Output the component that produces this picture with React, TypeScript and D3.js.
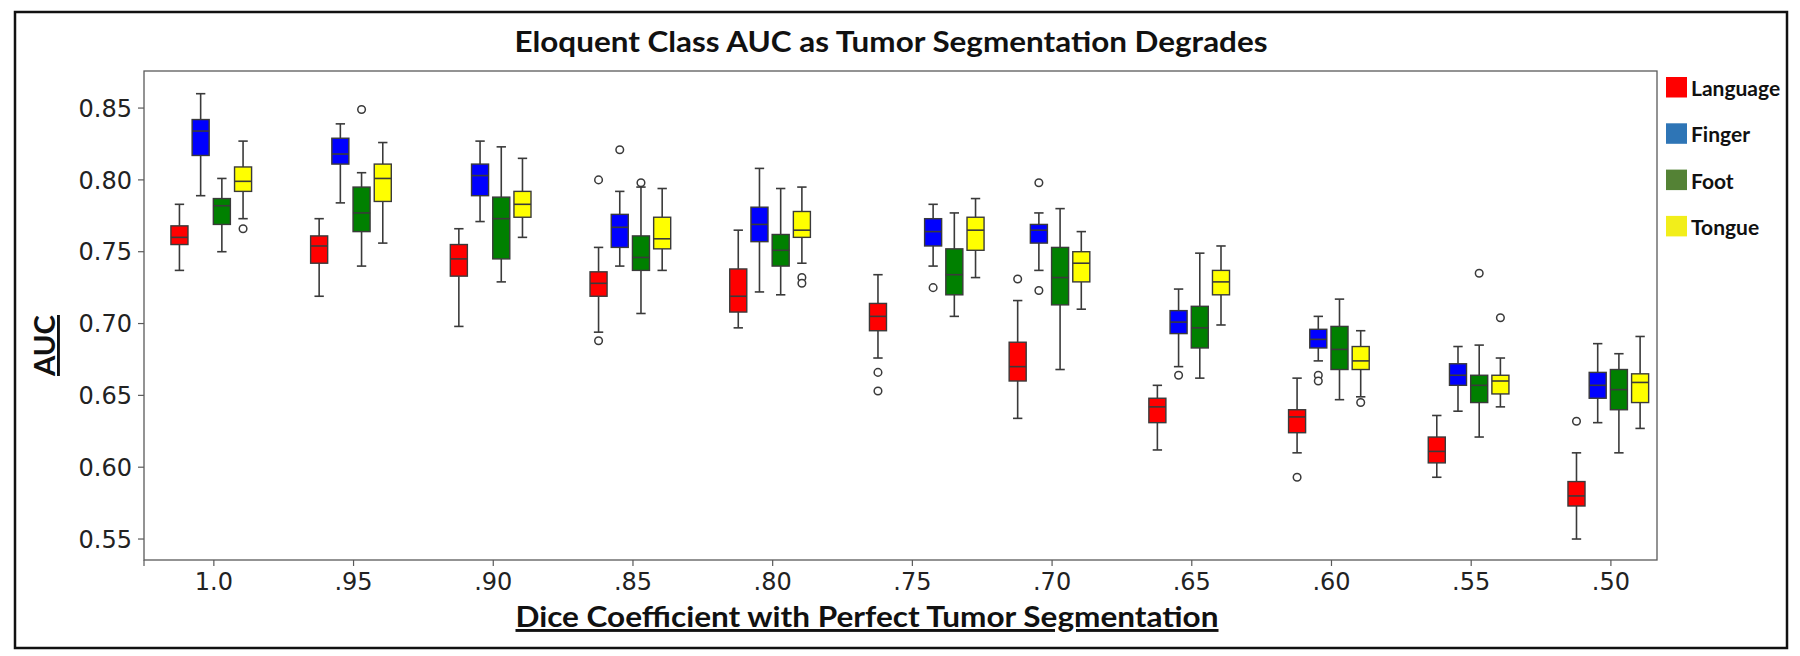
import React from "react";
import * as d3 from "d3";

// ---------- data ----------
const groups = ["1.0", ".95", ".90", ".85", ".80", ".75", ".70", ".65", ".60", ".55", ".50"];
const hues = ["Language", "Finger", "Foot", "Tongue"];
const yTicks = [0.55, 0.6, 0.65, 0.7, 0.75, 0.8, 0.85];

// [whiskerLow, q1, median, q3, whiskerHigh] per Dice level
const languageStats = [
  [0.737, 0.755, 0.760, 0.768, 0.783],
  [0.719, 0.742, 0.754, 0.761, 0.773],
  [0.698, 0.733, 0.745, 0.755, 0.766],
  [0.694, 0.719, 0.728, 0.736, 0.753],
  [0.697, 0.708, 0.719, 0.738, 0.765],
  [0.676, 0.695, 0.705, 0.714, 0.734],
  [0.634, 0.660, 0.670, 0.687, 0.716],
  [0.612, 0.631, 0.642, 0.648, 0.657],
  [0.610, 0.624, 0.635, 0.640, 0.662],
  [0.593, 0.603, 0.611, 0.621, 0.636],
  [0.550, 0.573, 0.580, 0.590, 0.610],
];
const fingerStats = [
  [0.789, 0.817, 0.834, 0.842, 0.860],
  [0.784, 0.811, 0.818, 0.829, 0.839],
  [0.771, 0.789, 0.803, 0.811, 0.827],
  [0.740, 0.753, 0.767, 0.776, 0.792],
  [0.722, 0.757, 0.769, 0.781, 0.808],
  [0.740, 0.754, 0.764, 0.773, 0.783],
  [0.737, 0.756, 0.765, 0.769, 0.777],
  [0.670, 0.693, 0.701, 0.709, 0.724],
  [0.674, 0.683, 0.689, 0.696, 0.705],
  [0.639, 0.657, 0.664, 0.672, 0.684],
  [0.631, 0.648, 0.657, 0.666, 0.686],
];
const footStats = [
  [0.750, 0.769, 0.782, 0.787, 0.801],
  [0.740, 0.764, 0.777, 0.795, 0.805],
  [0.729, 0.745, 0.773, 0.788, 0.823],
  [0.707, 0.737, 0.746, 0.761, 0.795],
  [0.720, 0.740, 0.751, 0.762, 0.794],
  [0.705, 0.720, 0.734, 0.752, 0.777],
  [0.668, 0.713, 0.732, 0.753, 0.780],
  [0.662, 0.683, 0.697, 0.712, 0.749],
  [0.647, 0.668, 0.682, 0.698, 0.717],
  [0.621, 0.645, 0.657, 0.664, 0.685],
  [0.610, 0.640, 0.654, 0.668, 0.679],
];
const tongueStats = [
  [0.773, 0.792, 0.799, 0.809, 0.827],
  [0.756, 0.785, 0.801, 0.811, 0.826],
  [0.760, 0.774, 0.783, 0.792, 0.815],
  [0.737, 0.752, 0.759, 0.774, 0.794],
  [0.742, 0.760, 0.765, 0.778, 0.795],
  [0.732, 0.751, 0.765, 0.774, 0.787],
  [0.710, 0.729, 0.742, 0.750, 0.764],
  [0.699, 0.720, 0.729, 0.737, 0.754],
  [0.649, 0.668, 0.674, 0.684, 0.695],
  [0.642, 0.651, 0.660, 0.664, 0.676],
  [0.627, 0.645, 0.659, 0.665, 0.691],
];

const languageOutliers = [[], [], [], [0.800, 0.688], [], [0.666, 0.653], [0.731], [], [0.593], [], [0.632]];
const fingerOutliers = [[], [], [], [0.821], [], [0.725], [0.798, 0.723], [0.664], [0.664, 0.660], [], []];
const footOutliers = [[], [0.849], [], [0.798], [], [], [], [], [], [0.735], []];
const tongueOutliers = [[0.766], [], [], [], [0.732, 0.728], [], [], [], [0.645], [0.704], []];

const allStats = [languageStats, fingerStats, footStats, tongueStats];
const allOutliers = [languageOutliers, fingerOutliers, footOutliers, tongueOutliers];

// ---------- style ----------
const boxColors = ["#FF0000", "#0000FF", "#008000", "#FFFF00"];
const legendColors = ["#FF0000", "#2E75B6", "#548235", "#F2EE1A"];
const lineColor = "#3a3a3a";
const W = 1800;
const H = 656;
const plot = { left: 144, right: 1657, top: 71, bottom: 560 };
// in the source figure, three boxes of the ".75" group sit shifted to the right
const shiftedGroup = { group: 5, hues: [1, 2, 3], shift: 0.243 };

export default function App() {
  const x = d3.scaleLinear().domain([-0.5, 10.33]).range([plot.left, plot.right]);
  const y = d3.scaleLinear().domain([0.5354, 0.8758]).range([plot.bottom, plot.top]);
  const unit = x(1) - x(0);
  const slot = unit * 0.1518;
  const boxW = unit * 0.122;
  const capW = boxW * 0.55;
  const groupOffset = -unit * 0.0186;

  const boxes: React.ReactNode[] = [];
  allStats.forEach((stats, k) => {
    stats.forEach((s, i) => {
      const extra =
        i === shiftedGroup.group && shiftedGroup.hues.includes(k) ? shiftedGroup.shift * unit : 0;
      const cx = x(i) + groupOffset + (k - 1.5) * slot + extra;
      const [lo, q1, med, q3, hi] = s;
      boxes.push(
        <g key={`b-${k}-${i}`}>
          <line x1={cx} x2={cx} y1={y(hi)} y2={y(q3)} stroke={lineColor} strokeWidth={1.6} />
          <line x1={cx} x2={cx} y1={y(q1)} y2={y(lo)} stroke={lineColor} strokeWidth={1.6} />
          <line x1={cx - capW / 2} x2={cx + capW / 2} y1={y(hi)} y2={y(hi)} stroke={lineColor} strokeWidth={1.6} />
          <line x1={cx - capW / 2} x2={cx + capW / 2} y1={y(lo)} y2={y(lo)} stroke={lineColor} strokeWidth={1.6} />
          <rect
            x={cx - boxW / 2}
            y={y(q3)}
            width={boxW}
            height={y(q1) - y(q3)}
            fill={boxColors[k]}
            stroke={lineColor}
            strokeWidth={1.4}
          />
          <line x1={cx - boxW / 2} x2={cx + boxW / 2} y1={y(med)} y2={y(med)} stroke={lineColor} strokeWidth={1.6} />
          {allOutliers[k][i].map((o, j) => (
            <circle key={j} cx={cx} cy={y(o)} r={3.8} fill="white" stroke={lineColor} strokeWidth={1.5} />
          ))}
        </g>
      );
    });
  });

  const tickFont = "'DejaVu Sans', sans-serif";
  const boldFont = "Lato, 'Open Sans', sans-serif";

  return (
    <svg
      width={W}
      height={H}
      style={{ position: "absolute", left: 0, top: 0, background: "white" }}
      xmlns="http://www.w3.org/2000/svg"
    >
      <rect x={0} y={0} width={W} height={H} fill="white" />
      {/* outer frame */}
      <rect x={15} y={12} width={1772} height={636} fill="none" stroke="#111" strokeWidth={2.5} />

      {/* title */}
      <text
        x={891}
        y={52}
        textAnchor="middle"
        fontFamily={boldFont}
        fontWeight="bold"
        fontSize={29}
        fill="#111"
        textLength={753}
        lengthAdjust="spacingAndGlyphs"
      >
        Eloquent Class AUC as Tumor Segmentation Degrades
      </text>

      {/* plot frame */}
      <rect
        x={plot.left}
        y={plot.top}
        width={plot.right - plot.left}
        height={plot.bottom - plot.top}
        fill="white"
        stroke="#5a5a5a"
        strokeWidth={1.3}
      />

      {/* y ticks */}
      {yTicks.map((t) => (
        <g key={`yt-${t}`}>
          <line x1={plot.left - 6} x2={plot.left} y1={y(t)} y2={y(t)} stroke="#5a5a5a" strokeWidth={1.2} />
          <text x={plot.left - 12} y={y(t)} dy="0.36em" textAnchor="end" fontFamily={tickFont} fontSize={24} fill="#222">
            {t.toFixed(2)}
          </text>
        </g>
      ))}

      {/* x ticks */}
      <line x1={plot.left} x2={plot.left} y1={plot.bottom} y2={plot.bottom + 6} stroke="#5a5a5a" strokeWidth={1.2} />
      {groups.map((g, i) => (
        <g key={`xt-${g}`}>
          <line x1={x(i)} x2={x(i)} y1={plot.bottom} y2={plot.bottom + 6} stroke="#5a5a5a" strokeWidth={1.2} />
          <text x={x(i)} y={590} textAnchor="middle" fontFamily={tickFont} fontSize={24} fill="#222">
            {g}
          </text>
        </g>
      ))}

      {boxes}

      {/* axis titles */}
      <text
        x={867}
        y={627}
        textAnchor="middle"
        fontFamily={boldFont}
        fontWeight="bold"
        fontSize={29}
        fill="#111"
        textDecoration="underline"
        textLength={703}
        lengthAdjust="spacingAndGlyphs"
      >
        Dice Coefficient with Perfect Tumor Segmentation
      </text>
      <text
        transform={`translate(55, 345.5) rotate(-90)`}
        textAnchor="middle"
        fontFamily={boldFont}
        fontWeight="bold"
        fontSize={29}
        fill="#111"
        textDecoration="underline"
        textLength={61}
        lengthAdjust="spacingAndGlyphs"
      >
        AUC
      </text>

      {/* legend */}
      {hues.map((h, k) => (
        <g key={`lg-${h}`}>
          <rect x={1666} y={77 + k * 46.3} width={21} height={20.5} fill={legendColors[k]} />
          <text x={1691} y={96 + k * 46.3} fontFamily={boldFont} fontWeight="bold" fontSize={21} fill="#111">
            {h}
          </text>
        </g>
      ))}
    </svg>
  );
}
